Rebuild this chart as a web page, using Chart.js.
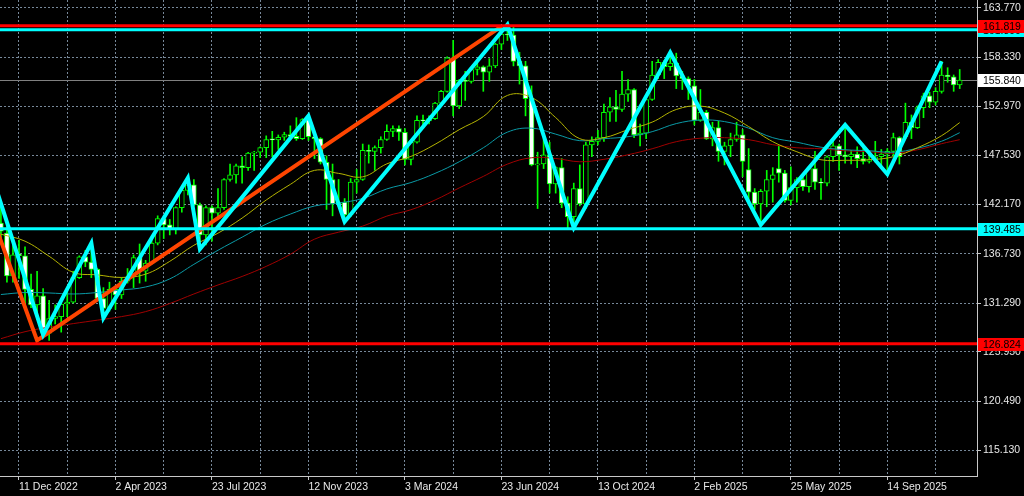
<!DOCTYPE html>
<html>
<head>
<meta charset="utf-8">
<script src="https://cdn.jsdelivr.net/npm/chart.js@4.4.1/dist/chart.umd.min.js"></script>
<style>
  html, body { margin: 0; padding: 0; background: #000; overflow: hidden; }
  #chart { display: block; background: #000; }
</style>
</head>
<body>
<canvas id="chart" width="1024" height="496"></canvas>
<script>
// weekly bars, week index 0 = week of 11 Dec 2022, first bar on screen is index -3
const firstWeek = -3;

const opens = [
  140.1, 139.0, 134.3, 136.7, 136.5, 132.8, 131.1, 132.1, 128.0, 129.6,
  129.8, 131.2, 131.4, 134.1, 136.4, 135.8, 135.0, 131.8, 130.7, 132.8,
  132.2, 133.7, 134.2, 136.3, 134.8, 135.7, 137.9, 140.6, 139.9, 139.4,
  141.8, 143.7, 144.3, 142.1, 138.8, 141.8, 141.2, 141.8, 144.9, 145.4,
  146.4, 146.2, 147.8, 147.9, 148.4, 149.35, 149.25, 149.55, 149.85, 149.65,
  149.4, 151.5, 149.6, 149.4, 146.8, 144.9, 142.2, 142.4, 141.0, 144.6,
  144.9, 148.1, 148.0, 148.4, 149.3, 150.2, 150.5, 150.1, 147.1, 149.0,
  151.4, 151.35, 151.6, 153.3, 154.6, 158.3, 153.0, 155.8, 155.7, 157.0,
  157.3, 156.7, 157.4, 159.8, 160.9, 160.8, 157.9, 157.4, 153.8, 146.5,
  146.6, 147.6, 144.4, 146.2, 142.3, 140.8, 143.9, 142.2, 148.7, 149.1,
  149.5, 152.3, 152.9, 152.6, 154.3, 154.8, 149.8, 150.0, 153.7, 156.4,
  157.8, 157.3, 157.7, 156.3, 156.0, 155.2, 151.4, 152.3, 149.35, 150.6,
  148.0, 148.6, 149.3, 149.8, 146.0, 143.5, 142.2, 143.6, 144.9, 146.1,
  145.6, 142.6, 144.0, 144.9, 144.1, 146.1, 144.6, 144.5, 147.4, 148.6,
  147.6, 147.4, 147.7, 147.2, 146.9, 147.1, 147.4, 147.7, 148.0, 149.5,
  149.6, 151.2, 150.6, 152.8, 154.1, 153.4, 154.6, 156.4, 156.2, 155.3
];
const highs = [
  142.25, 139.9, 137.85, 138.2, 137.5, 134.5, 134.8, 132.9, 131.6, 131.1,
  131.3, 132.9, 134.8, 136.5, 137.1, 137.9, 135.1, 133.0, 133.6, 133.2,
  134.1, 135.1, 136.6, 137.8, 136.0, 138.7, 140.9, 140.9, 140.5, 141.9,
  143.9, 145.07, 144.9, 142.3, 142.0, 142.0, 143.9, 145.0, 146.6, 146.6,
  147.4, 147.9, 148.0, 148.5, 149.7, 150.2, 149.8, 150.1, 150.8, 151.7,
  151.6, 151.9, 149.8, 149.5, 147.5, 146.6, 144.9, 142.8, 145.0, 146.0,
  148.8, 148.7, 148.6, 149.6, 150.9, 150.8, 150.8, 150.5, 149.2, 151.9,
  152.0, 151.9, 153.4, 154.7, 158.4, 160.2, 155.9, 156.8, 157.2, 157.7,
  157.4, 158.2, 159.9, 161.3, 161.95, 161.8, 158.9, 157.9, 155.2, 147.9,
  149.4, 149.0, 146.3, 147.2, 143.0, 144.5, 146.5, 149.0, 149.6, 150.3,
  153.2, 153.9, 154.7, 156.8, 155.9, 154.9, 151.0, 154.0, 157.9, 158.1,
  158.0, 158.87, 158.8, 156.8, 156.2, 155.9, 154.8, 152.5, 151.2, 151.3,
  149.0, 150.0, 151.2, 150.4, 148.3, 143.9, 143.8, 145.9, 146.2, 148.6,
  145.9, 146.3, 145.1, 145.5, 146.2, 148.0, 145.0, 147.5, 149.2, 148.8,
  150.91, 148.1, 148.5, 148.8, 148.0, 149.1, 148.2, 148.3, 150.0, 149.6,
  153.3, 152.0, 153.0, 154.4, 154.5, 155.0, 157.89, 157.2, 156.4, 157.0
];
const lows = [
  138.05, 133.6, 133.6, 134.0, 130.6, 130.8, 129.5, 127.5, 127.2, 129.0,
  128.1, 129.8, 131.3, 134.0, 135.3, 134.1, 131.6, 129.65, 130.4, 130.6,
  131.8, 133.5, 133.0, 133.5, 133.7, 135.6, 137.7, 138.4, 138.8, 138.9,
  141.3, 143.2, 142.0, 137.25, 137.7, 138.1, 140.7, 141.6, 144.7, 144.5,
  144.5, 145.9, 145.9, 147.3, 147.3, 147.4, 148.2, 149.2, 149.4, 149.2,
  149.3, 149.2, 147.2, 146.6, 141.6, 140.9, 141.9, 140.25, 140.8, 143.4,
  144.8, 146.7, 145.9, 147.8, 149.2, 149.6, 149.2, 146.5, 146.5, 148.9,
  150.8, 151.0, 151.5, 153.2, 154.5, 151.9, 152.7, 153.6, 155.5, 156.4,
  154.6, 155.7, 157.2, 159.2, 160.2, 157.4, 155.4, 151.9, 146.4, 141.7,
  146.1, 143.4, 143.4, 141.8, 139.6, 139.58, 142.0, 141.7, 147.4, 148.7,
  149.1, 151.3, 151.3, 152.4, 153.5, 149.5, 148.6, 149.4, 153.6, 156.0,
  156.0, 156.9, 154.9, 154.8, 153.7, 150.9, 151.3, 149.3, 148.6, 146.9,
  146.5, 147.4, 149.1, 145.2, 142.1, 141.6, 139.89, 141.9, 142.4, 144.6,
  142.4, 142.1, 142.4, 143.7, 143.5, 143.8, 142.7, 144.2, 146.9, 145.9,
  146.7, 146.6, 146.2, 146.6, 146.7, 146.8, 146.3, 145.48, 147.5, 146.6,
  149.4, 149.4, 150.5, 151.7, 152.8, 153.1, 154.4, 155.6, 154.6, 154.9
];
const closes = [
  139.2, 134.3, 136.6, 136.5, 132.8, 131.1, 132.1, 128.0, 129.6, 129.8,
  131.2, 131.4, 134.1, 136.4, 135.8, 135.0, 131.8, 130.7, 132.8, 132.2,
  133.7, 134.2, 136.3, 134.8, 135.7, 137.9, 140.6, 139.9, 139.4, 141.8,
  143.7, 144.3, 142.1, 138.8, 141.8, 141.2, 141.8, 144.9, 145.4, 146.4,
  146.2, 147.8, 147.9, 148.4, 149.3, 149.25, 149.55, 149.85, 149.65, 149.4,
  151.5, 149.6, 149.4, 146.8, 144.9, 142.2, 142.4, 141.0, 144.6, 144.9,
  148.1, 148.0, 148.4, 149.3, 150.2, 150.5, 150.1, 147.1, 149.0, 151.4,
  151.35, 151.6, 153.3, 154.6, 158.3, 153.0, 155.8, 155.7, 157.0, 157.3,
  156.7, 157.4, 159.8, 160.9, 160.8, 157.9, 157.4, 153.8, 146.5, 146.6,
  147.6, 144.4, 146.2, 142.3, 140.8, 143.9, 142.2, 148.7, 149.1, 149.5,
  152.3, 152.9, 152.6, 154.3, 154.8, 149.8, 150.0, 153.7, 156.4, 157.8,
  157.3, 157.7, 156.3, 156.0, 155.2, 151.4, 152.3, 149.35, 150.6, 148.0,
  148.6, 149.3, 149.8, 146.9, 143.5, 142.2, 143.6, 144.9, 145.4, 145.6,
  142.6, 144.0, 144.9, 144.1, 146.1, 144.6, 144.5, 147.4, 148.6, 147.6,
  147.4, 147.7, 147.2, 146.9, 147.1, 147.4, 147.7, 148.0, 149.5, 147.4,
  151.2, 150.6, 152.8, 154.1, 153.4, 154.6, 156.4, 156.2, 155.3, 155.84
];

// moving averages, read every 4 weeks
const maWeeks = [-3, 1, 5, 9, 13, 17, 21, 25, 29, 33, 37, 41, 45, 49, 53, 57, 61, 65, 69, 73,
  77, 81, 85, 89, 93, 97, 101, 105, 109, 113, 117, 121, 125, 129, 133, 137, 141, 145, 149, 153, 156];
const maFast = [138.88, 138.11, 136.45, 134.68, 134.40, 134.12, 134.48, 135.89, 137.66, 138.99,
  140.65, 142.64, 144.36, 145.90, 145.57, 145.19, 146.62, 147.44, 148.77, 150.38,
  151.82, 154.15, 153.92, 151.71, 149.39, 149.50, 150.38, 151.21, 152.60, 152.98,
  152.21, 150.72, 149.06, 147.95, 147.07, 147.01, 147.07, 147.40, 148.39, 149.72, 151.16];
const maMid = [132.24, 132.46, 132.41, 132.30, 132.46, 132.74, 133.07, 133.96, 135.56, 137.11,
  138.55, 139.99, 141.09, 141.98, 142.31, 142.81, 143.86, 144.56, 145.57, 146.85,
  148.39, 150.11, 150.55, 149.89, 149.17, 149.39, 149.61, 150.16, 151.05, 151.44,
  151.27, 150.55, 149.50, 149.00, 148.45, 148.17, 148.06, 147.90, 148.34, 149.11, 150.05];
const maSlow = [127.38, 128.15, 128.65, 129.04, 129.42, 129.81, 130.36, 131.25, 132.30, 133.29,
  134.23, 135.34, 136.67, 138.33, 139.10, 139.77, 140.87, 141.57, 142.64, 143.97,
  145.24, 146.59, 147.29, 147.21, 146.85, 147.12, 147.62, 148.28, 149.06, 149.44,
  149.50, 149.28, 148.73, 148.39, 148.28, 148.06, 147.95, 147.79, 148.17, 148.84, 149.28];

// zigzag swing points
const zigWeeks = [-5, 4, 12, 14, 28, 30, 48, 54, 81, 92, 108, 123, 137, 144, 153];
const zigValues = [146.4, 127.8, 137.9, 129.65, 145.07, 137.25, 151.9, 140.25, 161.95, 139.58,
  158.87, 139.89, 150.91, 145.48, 157.89];
const trendWeeks = [-6, 3, 80];
const trendValues = [143.6, 127.2, 161.75];

// horizontal levels and last price
const levelValues = [161.39, 161.819, 139.485, 126.824];
const levelColors = ['#00ffff', '#ff0000', '#00ffff', '#ff0000'];
const lastPrice = 155.84;

// axes
const yTicks = [115.13, 120.49, 125.95, 131.29, 136.73, 142.17, 147.53, 152.97, 158.33, 163.77];
const xLabelWeeks = [0, 16, 32, 48, 64, 80, 96, 112, 128, 144];
const xLabels = ['11 Dec 2022', '2 Apr 2023', '23 Jul 2023', '12 Nov 2023', '3 Mar 2024',
  '23 Jun 2024', '13 Oct 2024', '2 Feb 2025', '25 May 2025', '14 Sep 2025'];

const FONT = '"Liberation Sans", Arial, sans-serif';
Chart.defaults.font.family = FONT;

const weekOf = opens.map((_, k) => firstWeek + k);
const wickData = weekOf.map((w, k) => ({ x: w, y: [lows[k], highs[k]] }));
const bodyData = weekOf.map((w, k) => ({ x: w, y: [opens[k], closes[k]] }));
const bodyFill = closes.map((c, k) => (c >= opens[k] ? '#000000' : '#ffffff'));
const toPoints = (xs, ys) => xs.map((x, k) => ({ x: x, y: ys[k] }));

const levelPlugin = {
  id: 'levels',
  beforeDatasetsDraw(chart) {
    const { ctx, chartArea: a, scales: { y } } = chart;
    const py = Math.round(y.getPixelForValue(lastPrice)) + 0.5;
    ctx.save();
    ctx.strokeStyle = '#808080';
    ctx.lineWidth = 1;
    ctx.beginPath();
    ctx.moveTo(a.left, py);
    ctx.lineTo(a.right, py);
    ctx.stroke();
    ctx.restore();
  },
  afterDatasetsDraw(chart) {
    const { ctx, chartArea: a, scales: { y } } = chart;
    ctx.save();
    ctx.beginPath();
    ctx.rect(a.left, a.top, a.right - a.left, a.bottom - a.top);
    ctx.clip();
    levelValues.forEach((v, k) => {
      const py = y.getPixelForValue(v);
      ctx.strokeStyle = levelColors[k];
      ctx.lineWidth = 3;
      ctx.beginPath();
      ctx.moveTo(a.left, py);
      ctx.lineTo(a.right, py);
      ctx.stroke();
    });
    ctx.restore();
  },
  afterDraw(chart) {
    const { ctx, chartArea: a, scales: { y } } = chart;
    const tag = (v, bg) => {
      const py = Math.round(y.getPixelForValue(v));
      ctx.fillStyle = bg;
      ctx.fillRect(a.right + 1, py - 6, chart.width - a.right - 1, 13);
      ctx.fillStyle = '#000000';
      ctx.font = '10.5px ' + FONT;
      ctx.textBaseline = 'middle';
      ctx.textAlign = 'left';
      ctx.fillText(v.toFixed(3), a.right + 6, py + 1);
    };
    ctx.save();
    levelValues.forEach((v, k) => tag(v, levelColors[k]));
    tag(lastPrice, '#ffffff');
    ctx.restore();
  }
};

new Chart(document.getElementById('chart'), {
  type: 'line',
  data: {
    datasets: [
      {
        type: 'bar', data: wickData, backgroundColor: '#00ff00',
        barThickness: 1, grouped: false, order: 6
      },
      {
        type: 'bar', data: bodyData, backgroundColor: bodyFill, borderColor: '#00ff00',
        borderWidth: 1, borderSkipped: false, barThickness: 5, minBarLength: 1,
        grouped: false, order: 5
      },
      {
        data: toPoints(maWeeks, maFast), borderColor: '#b4b400', borderWidth: 1,
        pointRadius: 0, tension: 0.4, order: 4
      },
      {
        data: toPoints(maWeeks, maMid), borderColor: '#0a9aa6', borderWidth: 1,
        pointRadius: 0, tension: 0.4, order: 4
      },
      {
        data: toPoints(maWeeks, maSlow), borderColor: '#a00000', borderWidth: 1,
        pointRadius: 0, tension: 0.4, order: 4
      },
      {
        data: toPoints(trendWeeks, trendValues), borderColor: '#ff4500', borderWidth: 4,
        pointRadius: 0, tension: 0, order: 2
      },
      {
        data: toPoints(zigWeeks, zigValues), borderColor: '#00ffff', borderWidth: 4,
        pointRadius: 0, tension: 0, order: 1
      }
    ]
  },
  options: {
    responsive: false,
    animation: false,
    devicePixelRatio: 1,
    layout: { padding: 0 },
    plugins: { legend: { display: false }, tooltip: { enabled: false } },
    scales: {
      x: {
        type: 'linear',
        min: -3.15,
        max: 158.87,
        offset: false,
        grid: {
          color: '#778899',
          offset: false,
          tickLength: 4,
          tickColor: ctx => (ctx.tick && xLabelWeeks.includes(ctx.tick.value) ? '#c8c8c8' : 'rgba(0,0,0,0)')
        },
        border: { color: '#c8c8c8', dash: [2, 2] },
        ticks: {
          align: 'start',
          color: '#e8e8e8',
          font: { size: 10.5 },
          padding: 1,
          maxRotation: 0,
          autoSkip: false,
          callback: v => {
            const j = xLabelWeeks.indexOf(v);
            return j >= 0 ? xLabels[j] : '';
          }
        },
        afterBuildTicks: s => {
          const t = [];
          for (let w = 0; w <= s.max; w += 8) t.push({ value: w });
          s.ticks = t;
        },
        afterFit: s => {
          s.height = 20;
          s.paddingLeft = 0;
          s.paddingRight = 0;
        }
      },
      y: {
        position: 'right',
        min: 112.27,
        max: 164.65,
        grid: { color: '#778899', tickLength: 4, tickColor: '#c8c8c8' },
        border: { color: '#c8c8c8', dash: [2, 2] },
        ticks: {
          color: '#e8e8e8',
          font: { size: 10.5 },
          padding: 2,
          autoSkip: false,
          callback: v => v.toFixed(3)
        },
        afterBuildTicks: s => { s.ticks = yTicks.map(v => ({ value: v })); },
        afterFit: s => {
          s.width = 47;
          s.paddingTop = 0;
          s.paddingBottom = 0;
        }
      }
    }
  },
  plugins: [levelPlugin]
});
</script>
</body>
</html>
